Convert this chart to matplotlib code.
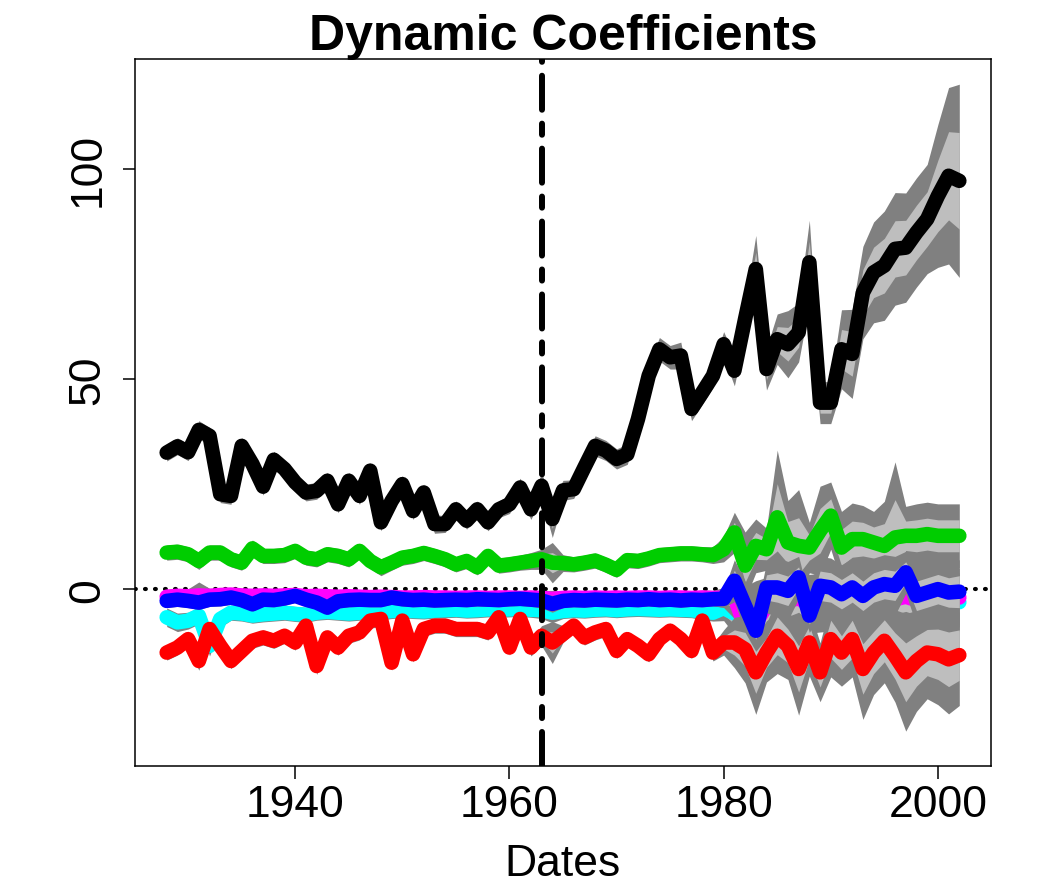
import numpy as np
import matplotlib.pyplot as plt

plt.rcParams['font.family'] = ['Liberation Sans', 'DejaVu Sans']
plt.rcParams['lines.scale_dashes'] = False

years = np.arange(1928, 2003)

black = [32.5, 34.0, 32.6, 37.9, 36.5, 22.6, 22.2, 34.1, 29.8, 24.4,
         30.8, 28.6, 25.4, 23.0, 23.4, 25.8, 20.2, 25.8, 22.2, 28.2,
         15.9, 21.0, 25.0, 18.6, 23.0, 15.5, 15.5, 19.0, 16.3, 19.0,
         15.9, 19.0, 20.2, 24.2, 19.0, 24.6, 16.7, 23.5, 23.8, 29.0,
         34.1, 33.0, 31.0, 32.1, 40.5, 50.8, 57.1, 55.2, 55.6, 42.9,
         46.8, 50.8, 58.3, 52.0, 64.3, 76.2, 52.4, 59.5, 58.3, 61.1,
         77.8, 44.4, 44.4, 57.1, 56.0, 70.6, 75.4, 77.0, 81.0, 81.3,
         84.9, 88.1, 93.6, 98.4, 97.2]
black_sd = [1.0, 1.0, 1.0, 1.1, 1.0, 1.0, 1.0, 1.0, 1.0, 1.0,
            1.0, 1.0, 1.0, 1.0, 1.0, 1.0, 1.0, 1.0, 1.0, 1.0,
            1.0, 1.0, 1.0, 1.0, 1.0, 1.1, 1.0, 1.0, 1.0, 1.0,
            1.0, 1.0, 1.1, 1.1, 1.2, 1.5, 2.2, 1.2, 1.1, 1.1,
            1.2, 1.2, 1.2, 1.2, 1.3, 1.3, 1.4, 1.4, 1.6, 1.4,
            1.4, 1.4, 1.5, 1.8, 2.0, 4.0, 2.5, 3.0, 4.0, 3.5,
            5.0, 2.5, 2.5, 4.7, 5.3, 5.5, 6.0, 6.5, 6.7, 6.5,
            6.5, 6.5, 8.5, 10.5, 11.5]

green = [8.7, 8.9, 8.3, 6.7, 8.7, 8.7, 7.1, 6.3, 9.7, 7.9,
         7.9, 8.1, 9.1, 7.5, 7.1, 8.3, 7.9, 7.1, 9.1, 6.7,
         5.2, 6.3, 7.5, 7.9, 8.6, 7.9, 7.1, 5.9, 6.7, 5.2,
         7.9, 5.6, 5.9, 6.3, 6.7, 7.1, 6.3, 6.2, 5.9, 6.3,
         6.8, 5.8, 4.6, 6.9, 6.7, 7.3, 8.1, 8.3, 8.5, 8.5,
         8.3, 8.1, 9.5, 13.5, 5.6, 10.3, 9.5, 17.1, 11.1, 10.3,
         9.9, 13.9, 17.5, 9.9, 11.9, 11.9, 11.1, 10.3, 12.3, 12.7,
         12.7, 13.1, 12.7, 12.7, 12.7]
green_sd = [0.9, 0.9, 0.9, 1.0, 0.9, 0.9, 0.9, 0.9, 1.0, 0.9,
            0.9, 0.9, 0.9, 0.9, 0.9, 0.9, 0.9, 0.9, 0.9, 0.9,
            1.0, 0.9, 0.9, 0.9, 0.9, 0.9, 0.9, 0.9, 0.9, 0.9,
            0.9, 0.9, 0.9, 0.9, 1.0, 1.2, 2.4, 1.0, 0.9, 0.9,
            0.9, 0.9, 0.9, 0.9, 0.9, 0.9, 0.9, 0.9, 0.9, 0.9,
            0.9, 1.0, 1.5, 2.4, 4.0, 3.2, 2.5, 8.0, 5.0, 6.7,
            3.0, 5.3, 4.0, 4.3, 4.3, 4.0, 3.7, 5.3, 9.0, 3.5,
            3.8, 3.8, 3.8, 3.8, 3.8]

cyan = [-6.7, -7.9, -7.5, -6.3, -13.5, -7.1, -5.6, -5.8, -6.3, -6.0,
        -5.8, -5.6, -5.9, -6.1, -5.6, -5.4, -5.6, -5.8, -5.6, -5.3,
        -5.5, -5.2, -5.0, -5.2, -5.3, -5.1, -5.0, -4.9, -5.1, -5.0,
        -4.8, -4.9, -4.8, -4.7, -4.9, -5.0, -5.6, -5.2, -5.0, -5.1,
        -4.9, -4.8, -5.0, -4.8, -4.7, -4.8, -4.9, -4.8, -4.9, -5.0,
        -5.3, -5.6, -4.5, -5.8, -6.3, -5.0, -4.2, -3.5, -2.2, -4.0,
        -3.5, -3.2, -3.0, -3.4, -3.1, -3.3, -3.0, -2.9, -3.1, -2.8,
        -3.2, -3.0, -2.9, -3.0, -3.1]
cyan_sd = [1.1, 1.1, 1.0, 1.0, 1.2, 1.0, 0.9, 0.9, 0.9, 0.9,
           0.9, 0.9, 0.9, 0.9, 0.9, 0.9, 0.9, 0.9, 0.9, 0.9,
           0.9, 0.9, 0.9, 0.9, 0.9, 0.9, 0.9, 0.9, 0.9, 0.9,
           0.9, 0.9, 0.9, 0.9, 0.9, 1.0, 1.2, 0.9, 0.9, 0.9,
           0.9, 0.9, 0.9, 0.9, 0.9, 0.9, 0.9, 0.9, 0.9, 0.9,
           1.0, 1.0, 1.5, 2.5, 3.5, 3.5, 3.5, 4.0, 3.5, 3.5,
           3.5, 3.5, 3.5, 3.5, 3.5, 3.5, 3.5, 3.5, 3.5, 3.5,
           3.5, 3.5, 3.5, 3.5, 3.5]

magenta = [-1.8, -1.6, -1.7, -1.5, -1.6, -1.4, -1.3, -1.5, -1.6, -1.5,
           -1.6, -1.5, -1.4, -1.7, -1.6, -1.7, -1.8, -1.7, -1.8, -1.9,
           -1.8, -1.9, -2.0, -2.0, -1.9, -2.0, -2.0, -2.1, -2.0, -2.0,
           -2.1, -2.0, -2.0, -2.1, -2.0, -2.1, -2.3, -2.1, -2.0, -2.1,
           -2.0, -2.1, -2.0, -2.1, -2.0, -2.0, -2.1, -2.0, -2.0, -2.1,
           -2.0, -2.1, -2.0, -2.0, -8.8, -8.0, -4.0, -2.5, -3.0, -2.0,
           -4.0, -2.5, -2.2, -3.0, -2.4, -2.8, -2.3, -2.0, -2.4, -1.8,
           -2.6, -2.2, -2.0, -2.1, -2.0]
magenta_sd = [0.8, 0.8, 0.9, 1.6, 0.9, 0.8, 0.8, 0.8, 0.8, 0.8,
              0.8, 0.8, 0.8, 0.8, 0.8, 0.8, 0.8, 0.8, 0.8, 0.8,
              0.8, 0.8, 0.8, 0.8, 0.8, 0.8, 0.8, 0.8, 0.8, 0.8,
              0.8, 0.8, 0.8, 0.8, 0.8, 0.9, 1.0, 0.8, 0.8, 0.8,
              0.8, 0.8, 0.8, 0.8, 0.8, 0.8, 0.8, 0.8, 0.8, 0.8,
              0.9, 0.9, 1.2, 2.5, 3.5, 3.5, 3.5, 3.5, 3.5, 3.5,
              3.5, 3.5, 3.5, 3.5, 3.5, 3.5, 3.5, 3.5, 3.5, 3.5,
              3.5, 3.5, 3.5, 3.5, 3.5]

red = [-15.1, -13.9, -11.9, -17.1, -9.5, -13.5, -17.1, -14.7, -12.3, -11.5,
       -12.3, -11.1, -12.7, -8.7, -18.3, -11.5, -13.9, -11.1, -10.3, -7.5,
       -7.1, -17.5, -7.5, -15.5, -9.5, -8.7, -8.7, -9.5, -9.5, -9.5,
       -10.3, -6.7, -13.9, -7.1, -13.9, -11.1, -12.7, -10.7, -8.7, -11.5,
       -10.3, -9.5, -14.7, -11.9, -13.5, -15.5, -11.9, -9.9, -11.9, -14.7,
       -7.5, -15.1, -12.7, -12.7, -14.3, -19.8, -15.1, -11.1, -13.5, -19.0,
       -12.7, -19.8, -11.9, -15.1, -11.9, -19.0, -15.1, -12.3, -15.9, -19.8,
       -17.1, -15.1, -15.5, -16.7, -15.7]
red_sd = [0.9, 0.9, 0.9, 1.1, 0.9, 0.9, 0.9, 0.9, 0.9, 0.9,
          0.9, 0.9, 0.9, 0.9, 1.0, 0.9, 0.9, 0.9, 0.9, 0.9,
          0.9, 0.9, 0.9, 0.9, 0.9, 0.9, 0.9, 0.9, 0.9, 0.9,
          0.9, 0.9, 0.9, 0.9, 1.0, 1.2, 2.5, 1.0, 0.9, 0.9,
          0.9, 0.9, 0.9, 0.9, 0.9, 0.9, 0.9, 0.9, 0.9, 0.9,
          1.0, 1.0, 1.5, 3.0, 4.0, 5.0, 3.5, 4.5, 4.0, 5.5,
          4.0, 3.5, 4.5, 4.0, 4.5, 6.0, 5.0, 5.0, 5.5, 7.0,
          6.0, 5.5, 6.0, 6.5, 6.0]

blue = [-2.8, -2.5, -2.8, -3.2, -2.5, -2.4, -2.0, -2.6, -3.6, -2.5,
        -2.6, -2.2, -1.6, -2.5, -3.2, -4.4, -2.9, -2.6, -2.5, -2.6,
        -2.6, -2.0, -2.4, -2.6, -2.5, -2.7, -2.6, -2.5, -2.6, -2.4,
        -2.5, -2.6, -2.4, -2.3, -2.5, -2.7, -3.5, -2.8, -2.6, -2.7,
        -2.5, -2.6, -2.7, -2.5, -2.6, -2.4, -2.6, -2.5, -2.7, -2.5,
        -2.6, -2.4, -2.3, 2.0, -4.0, -9.9, 0.4, 0.4, -0.4, 2.8,
        -6.3, 0.8, 0.4, -1.2, 0.4, -1.6, 0.4, 1.2, 0.8, 4.0,
        -1.6, -0.8, 0.0, -0.8, -0.6]
blue_sd = [0.8, 0.8, 0.8, 0.8, 0.8, 0.8, 0.8, 0.8, 0.8, 0.8,
           0.8, 0.8, 0.8, 0.8, 0.8, 0.8, 0.8, 0.8, 0.8, 0.8,
           0.8, 0.8, 0.8, 0.8, 0.8, 0.8, 0.8, 0.8, 0.8, 0.8,
           0.8, 0.8, 0.8, 0.8, 0.8, 0.9, 1.0, 0.8, 0.8, 0.8,
           0.8, 0.8, 0.8, 0.8, 0.8, 0.8, 0.8, 0.8, 0.8, 0.8,
           0.8, 0.8, 1.0, 2.5, 3.0, 2.0, 3.0, 3.5, 3.5, 2.5,
           2.0, 3.5, 3.5, 3.5, 3.5, 3.5, 3.5, 3.5, 3.5, 2.5,
           3.5, 3.5, 3.5, 3.5, 3.8]

# drawing order matters: later bands cover earlier lines
series = [(black, black_sd, 'black'),
          (green, green_sd, '#00CD00'),
          (cyan, cyan_sd, 'cyan'),
          (magenta, magenta_sd, 'magenta'),
          (red, red_sd, 'red'),
          (blue, blue_sd, 'blue')]

fig = plt.figure(figsize=(10.51, 8.87), dpi=100)
ax = fig.add_axes([135/1051, 120/887, 856/1051, 707/887])

ax.axhline(0, color='black', lw=3, dashes=(0.6, 6.6),
           dash_capstyle='round', zorder=1)

z = 2
for vals, sd, col in series:
    v = np.array(vals)
    s = np.array(sd)
    ax.fill_between(years, v - 2*s, v + 2*s, color='#808080', lw=0, zorder=z)
    ax.fill_between(years, v - s, v + s, color='#BEBEBE', lw=0, zorder=z + 0.1)
    ax.plot(years, v, color=col, lw=10.5, solid_capstyle='round',
            solid_joinstyle='round', zorder=z + 0.2)
    z += 1

ax.axvline(1963, color='black', lw=4.3, dashes=(24.5, 10, 8, 10),
           dash_capstyle='round', zorder=20)

ax.set_xlim(1925.04, 2004.96)
ax.set_ylim(-42.1, 126.2)
ax.set_xticks([1940, 1960, 1980, 2000])
ax.set_yticks([0, 50, 100])
ax.tick_params(labelsize=32, length=9, width=1.1, pad=4)
ax.tick_params(axis='y', pad=10)
plt.setp(ax.get_yticklabels(), rotation=90, va='center')
for sp in ax.spines.values():
    sp.set_linewidth(1.1)

ax.set_xlabel('Dates', fontsize=32, labelpad=13)
ax.set_title('Dynamic Coefficients', fontsize=36, fontweight='bold', pad=3)

fig.savefig('out.png', dpi=100)
